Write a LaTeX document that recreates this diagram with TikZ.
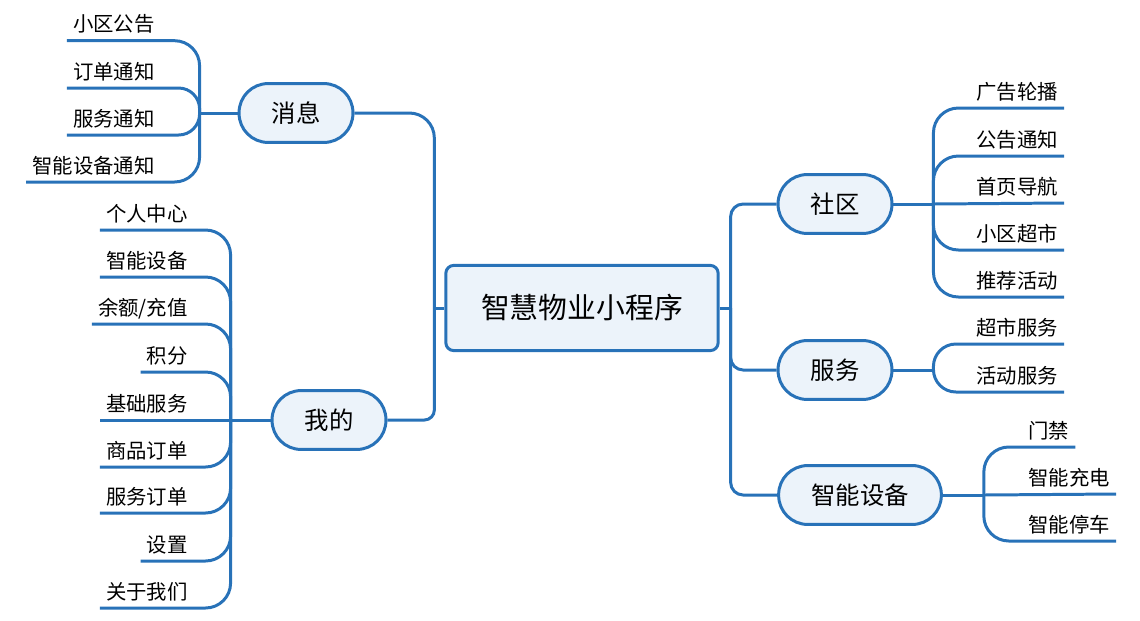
\documentclass[tikz,border=0pt]{standalone}
\usepackage{fontspec}
\setmainfont{Noto Sans CJK SC}
\usepackage{xcolor}
\usepackage{tikz}
\definecolor{mapblue}{RGB}{40,114,184}
\definecolor{mapfill}{RGB}{236,243,250}
\tikzset{
  conn/.style={draw=mapblue,line width=1.7pt},
  rootbox/.style={draw=mapblue,fill=mapfill,line width=1.7pt,rounded corners=4.5pt,
    minimum width=155pt,minimum height=48.5pt,font=\fontsize{16.4}{20}\selectfont},
  branchbox/.style={draw=mapblue,fill=mapfill,line width=1.7pt,rounded corners=16.5pt,
    minimum height=33.5pt,inner xsep=18.5pt,font=\fontsize{13.9}{17}\selectfont},
  leafl/.style={anchor=base east,inner sep=0pt,font=\fontsize{11.6}{14}\selectfont},
  leafr/.style={anchor=base west,inner sep=0pt,font=\fontsize{11.6}{14}\selectfont},
}

\begin{document}
\begin{tikzpicture}[x=0.02cm,y=-0.02cm]
    \useasboundingbox (0,0) rectangle (1140,620);
    \node[rootbox] (root) at (582,308) {智慧物业小程序};
    \node[branchbox] (msg) at (296,113) {消息};
    \node[branchbox] (mine) at (329,420) {我的};
    \node[branchbox] (comm) at (835,204) {社区};
    \node[branchbox] (serv) at (835,370) {服务};
    \node[branchbox] (dev) at (860,495) {智能设备};
    % root to branches
    \draw[conn] (root.west) -- ++(-10,0) coordinate (jl);
    \draw[conn] (root.east) -- ++(11,0) coordinate (jr);
    \draw[conn,rounded corners=0.5cm] (jl) |- (msg.east);
    \draw[conn,rounded corners=0.2cm] (jl) |- (mine.east);
    \draw[conn,rounded corners=0.25cm] (jr) |- (comm.west);
    \draw[conn,rounded corners=0.25cm] (jr) |- (serv.west);
    \draw[conn,rounded corners=0.25cm] (jr) |- (dev.west);
    % leaves of msg
    \draw[conn] (msg.west) -- ++(-38,0) coordinate (jmsg);
    \node[leafl] (msg1) at (155,31.7) {小区公告};
    \node[leafl] (msg2) at (155,79) {订单通知};
    \node[leafl] (msg3) at (155,126) {服务通知};
    \node[leafl] (msg4) at (155,173) {智能设备通知};
    \draw[conn,rounded corners=0.5cm] (jmsg) |- ([shift={(-6,9)}]msg1.base west);
    \draw[conn,rounded corners=0.42cm] (jmsg) |- ([shift={(-6,9)}]msg2.base west);
    \draw[conn,rounded corners=0.42cm] (jmsg) |- ([shift={(-6,9)}]msg3.base west);
    \draw[conn,rounded corners=0.5cm] (jmsg) |- ([shift={(-6,9)}]msg4.base west);
    % leaves of mine
    \draw[conn] (mine.west) -- ++(-40,0) coordinate (jmine);
    \node[leafl] (mine1) at (188,221) {个人中心};
    \node[leafl] (mine2) at (188,268) {智能设备};
    \node[leafl] (mine3) at (188,315) {余额/充值};
    \node[leafl] (mine4) at (188,363) {积分};
    \node[leafl] (mine5) at (188,411) {基础服务};
    \node[leafl] (mine6) at (188,458) {商品订单};
    \node[leafl] (mine7) at (188,504) {服务订单};
    \node[leafl] (mine8) at (188,552) {设置};
    \node[leafl] (mine9) at (188,599) {关于我们};
    \draw[conn,rounded corners=0.5cm] (jmine) |- ([shift={(-6,9)}]mine1.base west);
    \draw[conn,rounded corners=0.5cm] (jmine) |- ([shift={(-6,9)}]mine2.base west);
    \draw[conn,rounded corners=0.5cm] (jmine) |- ([shift={(-6,9)}]mine3.base west);
    \draw[conn,rounded corners=0.5cm] (jmine) |- ([shift={(-6,9)}]mine4.base west);
    \draw[conn] (jmine) -- ([shift={(-6,9)}]mine5.base west);
    \draw[conn,rounded corners=0.5cm] (jmine) |- ([shift={(-6,9)}]mine6.base west);
    \draw[conn,rounded corners=0.5cm] (jmine) |- ([shift={(-6,9)}]mine7.base west);
    \draw[conn,rounded corners=0.5cm] (jmine) |- ([shift={(-6,9)}]mine8.base west);
    \draw[conn,rounded corners=0.5cm] (jmine) |- ([shift={(-6,9)}]mine9.base west);
    % leaves of comm
    \draw[conn] (comm.east) -- ++(40,0) coordinate (jcomm);
    \node[leafr] (comm1) at (976,99) {广告轮播};
    \node[leafr] (comm2) at (976,147) {公告通知};
    \node[leafr] (comm3) at (976,194) {首页导航};
    \node[leafr] (comm4) at (976,241) {小区超市};
    \node[leafr] (comm5) at (976,288) {推荐活动};
    \draw[conn,rounded corners=0.5cm] (jcomm) |- ([shift={(6,9)}]comm1.base east);
    \draw[conn,rounded corners=0.5cm] (jcomm) |- ([shift={(6,9)}]comm2.base east);
    \draw[conn] (jcomm) -- ([shift={(6,9)}]comm3.base east);
    \draw[conn,rounded corners=0.5cm] (jcomm) |- ([shift={(6,9)}]comm4.base east);
    \draw[conn,rounded corners=0.5cm] (jcomm) |- ([shift={(6,9)}]comm5.base east);
    % leaves of serv
    \draw[conn] (serv.east) -- ++(40,0) coordinate (jserv);
    \node[leafr] (serv1) at (976,335) {超市服务};
    \node[leafr] (serv2) at (976,383) {活动服务};
    \draw[conn,rounded corners=0.45cm] (jserv) |- ([shift={(6,9)}]serv1.base east);
    \draw[conn,rounded corners=0.45cm] (jserv) |- ([shift={(6,9)}]serv2.base east);
    % leaves of dev
    \draw[conn] (dev.east) -- ++(41,0) coordinate (jdev);
    \node[leafr] (dev1) at (1028,438) {门禁};
    \node[leafr] (dev2) at (1028,485) {智能充电};
    \node[leafr] (dev3) at (1028,532) {智能停车};
    \draw[conn,rounded corners=0.5cm] (jdev) |- ([shift={(6,9)}]dev1.base east);
    \draw[conn] (jdev) -- ([shift={(6,9)}]dev2.base east);
    \draw[conn,rounded corners=0.5cm] (jdev) |- ([shift={(6,9)}]dev3.base east);
\end{tikzpicture}
\end{document}
